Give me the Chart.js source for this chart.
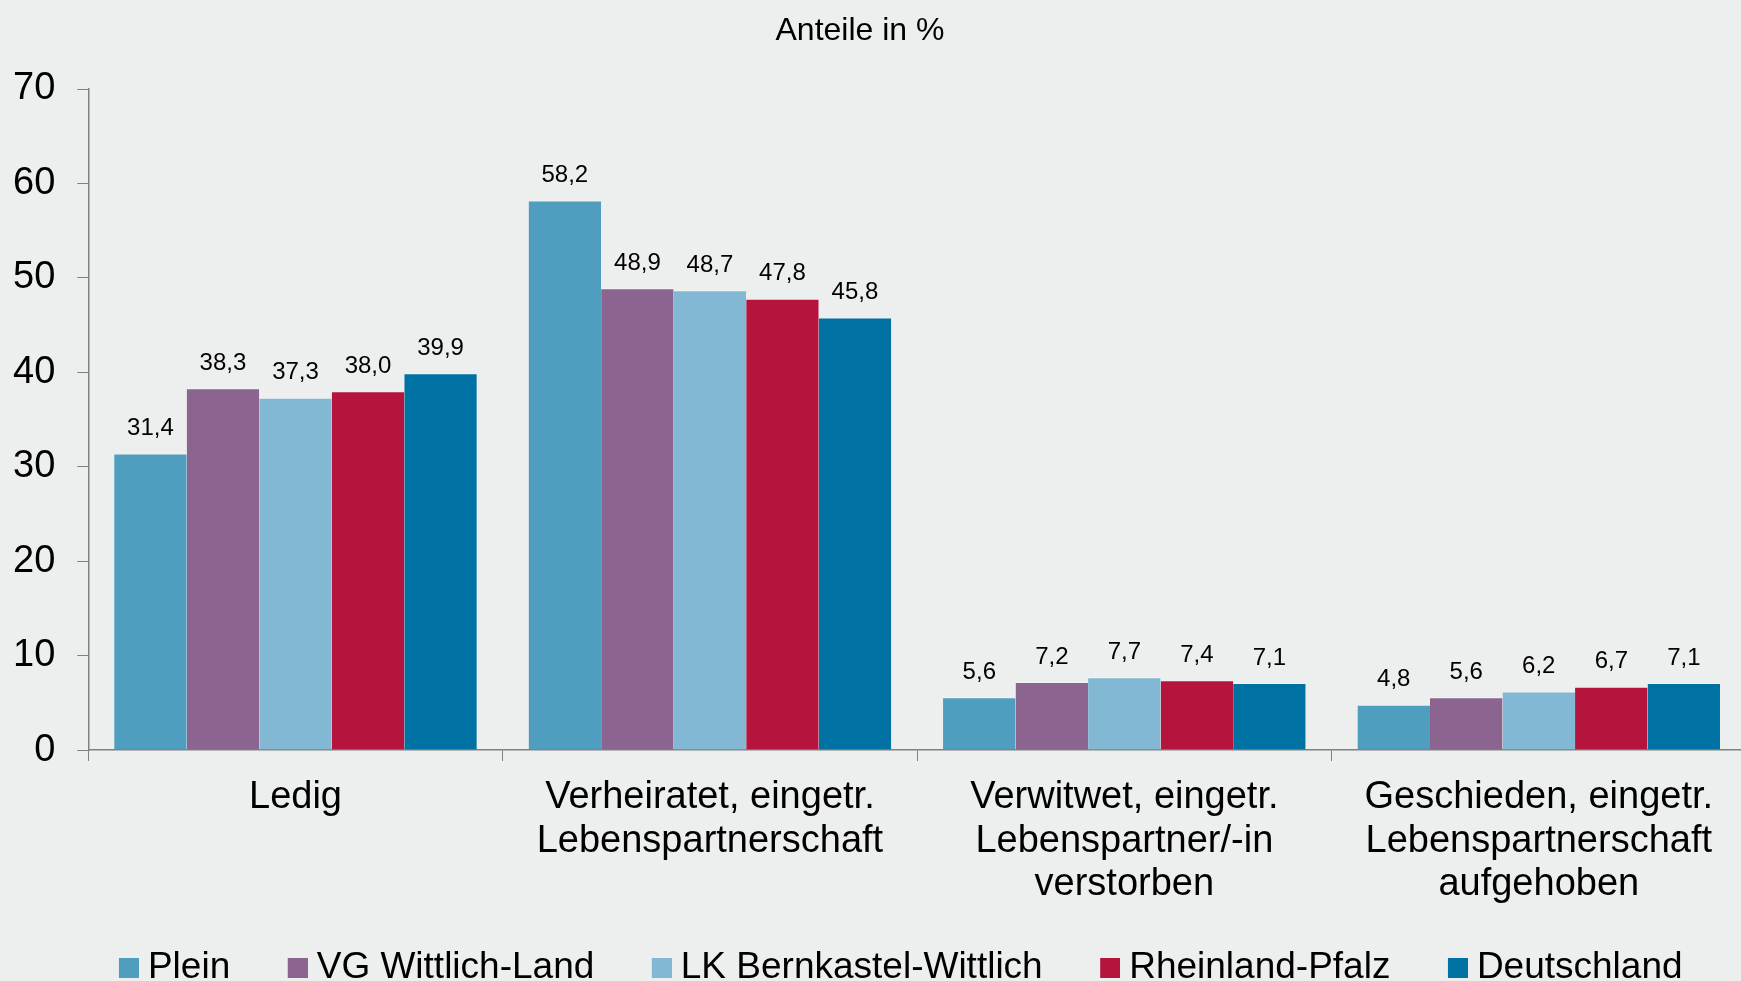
<!DOCTYPE html>
<html>
<head>
<meta charset="utf-8">
<script src="https://cdn.jsdelivr.net/npm/chart.js@4/dist/chart.umd.min.js"></script>
<style>
  html, body { margin: 0; padding: 0; background: #edefee; overflow: hidden; }
  #wrap { width: 1746px; height: 981px; position: relative; }
</style>
</head>
<body>
<div id="wrap"><canvas id="chart"></canvas></div>
<script>
// ********* Data *********
const categories = [
  'Ledig',
  ['Verheiratet, eingetr.', 'Lebenspartnerschaft'],
  ['Verwitwet, eingetr.', 'Lebenspartner/-in', 'verstorben'],
  ['Geschieden, eingetr.', 'Lebenspartnerschaft', 'aufgehoben']
];
const seriesNames = ['Plein', 'VG Wittlich-Land', 'LK Bernkastel-Wittlich', 'Rheinland-Pfalz', 'Deutschland'];
const plein = [31.4, 58.2, 5.6, 4.8];
const vgWittlichLand = [38.3, 48.9, 7.2, 5.6];
const lkBernkastel = [37.3, 48.7, 7.7, 6.2];
const rheinlandPfalz = [38.0, 47.8, 7.4, 6.7];
const deutschland = [39.9, 45.8, 7.1, 7.1];
const yTicks = [0, 10, 20, 30, 40, 50, 60, 70];
const titleText = 'Anteile in %';

const colors = ['#4f9dbf', '#8b648f', '#82b8d4', '#b5143d', '#0071a3'];
const FONT = '"Liberation Sans", Arial, sans-serif';

// legend swatch: square sits at the right end so the text follows closely
const SW_BOX = 55;
const swatch = color => {
  const c = document.createElement('canvas');
  c.width = SW_BOX + 19;
  c.height = 20;
  const g = c.getContext('2d');
  g.fillStyle = color;
  g.fillRect(c.width - 20, 0, 20, 20);
  return c;
};
const swatches = colors.map(swatch);

// ********* Title + value labels *********
const extras = {
  id: 'extras',
  afterLayout(chart) {
    // nudge the legend to where the original sits
    const lg = chart.legend;
    lg.left += 10; lg.right += 10;
    lg.top += 15; lg.bottom += 15;
  },
  afterDatasetsDraw(chart) {
    const ctx = chart.ctx;
    ctx.save();
    ctx.fillStyle = '#000';
    ctx.textAlign = 'center';
    ctx.textBaseline = 'middle';
    ctx.font = '32px ' + FONT;
    ctx.fillText(titleText, 860, 31);
    ctx.font = '24px ' + FONT;
    chart.data.datasets.forEach((ds, i) => {
      chart.getDatasetMeta(i).data.forEach((bar, j) => {
        ctx.fillText(ds.data[j].toFixed(1).replace('.', ','), bar.x, bar.y - 25);
      });
    });
    ctx.restore();
  }
};

const allSeries = [plein, vgWittlichLand, lkBernkastel, rheinlandPfalz, deutschland];

new Chart(document.getElementById('chart'), {
  type: 'bar',
  data: {
    labels: categories,
    datasets: allSeries.map((vals, i) => ({
      label: seriesNames[i],
      data: vals,
      backgroundColor: colors[i],
      borderColor: 'rgba(255,255,255,0.35)',
      borderWidth: { top: 1, left: 0, right: 0, bottom: 0 },
      barPercentage: 1,
      categoryPercentage: 0.875
    }))
  },
  options: {
    responsive: true,
    maintainAspectRatio: false,
    animation: false,
    layout: { padding: { left: -9, right: 0, top: 89, bottom: 0 } },
    plugins: {
      title: { display: false },
      legend: {
        position: 'bottom',
        labels: {
          color: '#000',
          font: { family: FONT, size: 37 },
          usePointStyle: true,
          pointStyleWidth: SW_BOX,
          boxHeight: 20,
          padding: 13,
          generateLabels: chart => {
            const items = Chart.defaults.plugins.legend.labels.generateLabels(chart);
            items.forEach(it => { it.pointStyle = swatches[it.datasetIndex]; });
            return items;
          }
        }
      },
      tooltip: { enabled: false }
    },
    scales: {
      x: {
        grid: { display: true, drawOnChartArea: false, drawTicks: true, tickLength: 11, color: '#808080', offset: true },
        border: { display: true, color: '#808080', width: 1.5 },
        ticks: { color: '#000', font: { family: FONT, size: 38, lineHeight: 1.14 }, padding: 15, maxRotation: 0, autoSkip: false }
      },
      y: {
        min: 0,
        max: 70,
        afterBuildTicks: axis => { axis.ticks = yTicks.map(v => ({ value: v })); },
        grid: { display: true, drawOnChartArea: false, drawTicks: true, tickLength: 11, color: '#808080' },
        border: { display: true, color: '#808080', width: 1.5 },
        ticks: { color: '#000', font: { family: FONT, size: 38 }, padding: 22 }
      }
    }
  },
  plugins: [extras]
});
</script>
</body>
</html>
